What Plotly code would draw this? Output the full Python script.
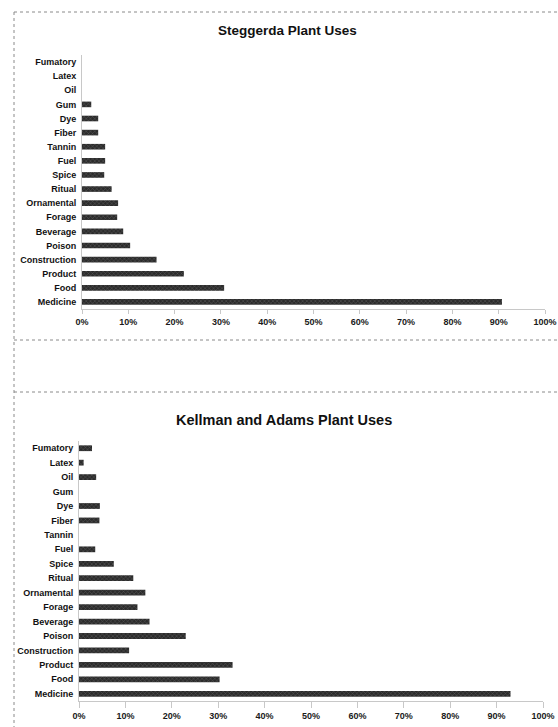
import plotly.graph_objects as go

# Plant-use categories, listed top to bottom as they appear on the chart
categories = ["Fumatory", "Latex", "Oil", "Gum", "Dye", "Fiber", "Tannin", "Fuel",
              "Spice", "Ritual", "Ornamental", "Forage", "Beverage", "Poison",
              "Construction", "Product", "Food", "Medicine"]

# Percent of species with each use
steggerda_pct = [0, 0, 0, 2.0, 3.5, 3.5, 5.0, 5.0,
                 4.8, 6.4, 7.8, 7.6, 8.9, 10.4,
                 16.1, 22.0, 30.7, 90.7]
kellman_adams_pct = [2.8, 1.0, 3.7, 0, 4.5, 4.4, 0, 3.5,
                     7.5, 11.7, 14.3, 12.6, 15.2, 23.0,
                     10.8, 33.1, 30.3, 93.0]

tick_values = list(range(0, 101, 10))
tick_labels = [f"{v}%" for v in tick_values]

W, H = 558, 727
FONT = "Liberation Sans, Arial, sans-serif"
BAR_STYLE = dict(color="#2b2b2b",
                 pattern=dict(shape="x", fgcolor="#9a9a9a", bgcolor="#2b2b2b",
                              size=3, solidity=0.25),
                 line=dict(width=0))

fig = go.Figure()
fig.add_trace(go.Bar(x=steggerda_pct, y=categories, orientation="h",
                     marker=BAR_STYLE, xaxis="x", yaxis="y", showlegend=False))
fig.add_trace(go.Bar(x=kellman_adams_pct, y=categories, orientation="h",
                     marker=BAR_STYLE, xaxis="x2", yaxis="y2", showlegend=False))


def px_x(v):
    return v / W


def px_y(v):
    return 1 - v / H


xaxis_common = dict(range=[0, 100], tickmode="array", tickvals=tick_values,
                    ticktext=tick_labels, automargin=False,
                    showgrid=False, zeroline=False, showline=True,
                    linecolor="#c8c8c8", linewidth=1,
                    ticks="outside", tickcolor="#c8c8c8",
                    tickfont=dict(family=FONT, size=9, color="#1a1a1a", weight="bold"))
yaxis_common = dict(autorange="reversed", showgrid=False, zeroline=False,
                    showline=True, linecolor="#c8c8c8", linewidth=1,
                    ticks="", ticklabelstandoff=3, automargin=False,
                    tickfont=dict(family=FONT, size=9, color="#111", weight="bold"))

fig.update_layout(
    width=W, height=H,
    margin=dict(l=0, r=0, t=0, b=0),
    paper_bgcolor="white", plot_bgcolor="white",
    bargap=0.6,
    xaxis=dict(domain=[px_x(82), px_x(545)], anchor="y", ticklen=4, **xaxis_common),
    yaxis=dict(domain=[px_y(309), px_y(55)], anchor="x", **yaxis_common),
    xaxis2=dict(domain=[px_x(79), px_x(543)], anchor="y2", ticklen=6, **xaxis_common),
    yaxis2=dict(domain=[px_y(701), px_y(441)], anchor="x2", **yaxis_common),
)

# Chart titles
fig.add_annotation(text="Steggerda Plant Uses", x=px_x(287), y=px_y(30),
                   xref="paper", yref="paper", showarrow=False,
                   xanchor="center", yanchor="middle",
                   font=dict(family=FONT, size=13.5, color="#111", weight="bold"))
fig.add_annotation(text="Kellman and Adams Plant Uses", x=px_x(284), y=px_y(420),
                   xref="paper", yref="paper", showarrow=False,
                   xanchor="center", yanchor="middle",
                   font=dict(family=FONT, size=14.5, color="#111", weight="bold"))

# Dotted frame lines around and between the two charts
frame = dict(color="#8a8a8a", width=1, dash="dot")
fig.add_shape(type="line", xref="paper", yref="paper",
              x0=px_x(14), x1=1, y0=px_y(12), y1=px_y(12), line=frame)
fig.add_shape(type="line", xref="paper", yref="paper",
              x0=px_x(14), x1=px_x(14), y0=px_y(12), y1=0, line=frame)
fig.add_shape(type="line", xref="paper", yref="paper",
              x0=px_x(14), x1=1, y0=px_y(340), y1=px_y(340), line=frame)
fig.add_shape(type="line", xref="paper", yref="paper",
              x0=px_x(14), x1=1, y0=px_y(392), y1=px_y(392), line=frame)

fig.write_html("out.html")
